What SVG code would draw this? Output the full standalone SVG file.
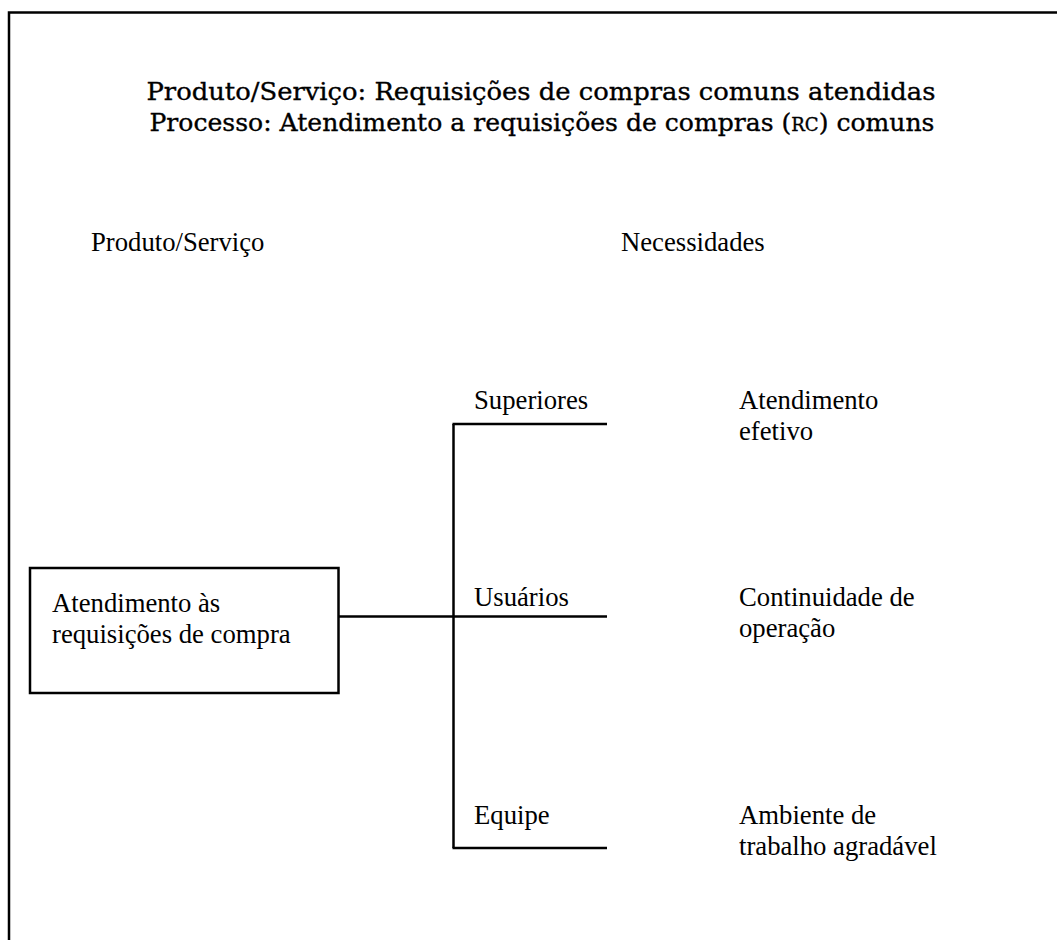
<svg xmlns="http://www.w3.org/2000/svg" width="1057" height="940" viewBox="0 0 1057 940">
<style>
.t{font-family:"Liberation Serif","Times New Roman",serif;font-size:26.7px;fill:#000}
.h{font-family:"DejaVu Serif",serif;font-size:25px;fill:#000;stroke:#000;stroke-width:0.35}
.ln{stroke:#000;stroke-width:2.5;fill:none}
</style>
<rect width="1057" height="940" fill="#fff"/>
<g id="frame">
<path class="ln" d="M9,940 V12.5 H1057"/>
</g>
<g id="title">
<text class="h" x="541" y="100" text-anchor="middle" textLength="789" lengthAdjust="spacingAndGlyphs">Produto/Serviço: Requisições de compras comuns atendidas</text>
<text class="h" x="542" y="131" text-anchor="middle" textLength="785" lengthAdjust="spacingAndGlyphs">Processo: Atendimento a requisições de compras (<tspan font-size="18">RC</tspan>) comuns</text>
</g>
<g id="headers">
<text class="t" x="91" y="251">Produto/Serviço</text>
<text class="t" x="621" y="251">Necessidades</text>
</g>
<g id="connectors">
<path class="ln" d="M339,616.5 H607"/>
<path class="ln" d="M453.5,424 V848"/>
<path class="ln" d="M452.5,424 H607"/>
<path class="ln" d="M452.5,848 H607"/>
</g>
<g id="product">
<rect class="ln" x="30" y="568" width="308.5" height="125"/>
<text class="t" x="52" y="612">Atendimento às</text>
<text class="t" x="52" y="643">requisições de compra</text>
</g>
<g id="superiores">
<text class="t" x="474" y="409">Superiores</text>
<text class="t" x="739" y="409">Atendimento</text>
<text class="t" x="739" y="440">efetivo</text>
</g>
<g id="usuarios">
<text class="t" x="474" y="606">Usuários</text>
<text class="t" x="739" y="606">Continuidade de</text>
<text class="t" x="739" y="637">operação</text>
</g>
<g id="equipe">
<text class="t" x="474" y="824">Equipe</text>
<text class="t" x="739" y="824">Ambiente de</text>
<text class="t" x="739" y="855">trabalho agradável</text>
</g>
</svg>
